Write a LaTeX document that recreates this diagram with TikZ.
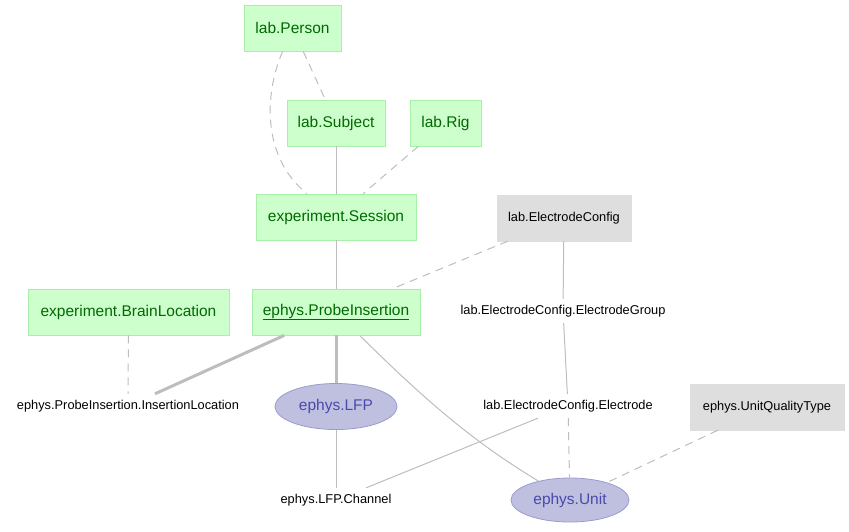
\documentclass[tikz,border=0pt]{standalone}
\usepackage{fontspec}
\setmainfont{Liberation Sans}
\usetikzlibrary{shapes.geometric}
\definecolor{gfill}{HTML}{CCFFCC}
\definecolor{gdraw}{HTML}{A8F0A8}
\definecolor{gtext}{HTML}{006A00}
\definecolor{grfill}{HTML}{DEDEDE}
\definecolor{efill}{HTML}{BFC0E0}
\definecolor{edraw}{HTML}{9A9AD0}
\definecolor{etext}{HTML}{4A4AAA}
\definecolor{edgec}{HTML}{BDBDBD}
\tikzset{
  greenbox/.style={draw=gdraw, fill=gfill, text=gtext, rectangle, inner sep=0pt, minimum height=46pt, font=\fontsize{15.5}{18}\selectfont, line width=0.8pt},
  graybox/.style={draw=grfill, fill=grfill, text=black, rectangle, inner sep=0pt, minimum height=46pt, font=\fontsize{12.8}{15}\selectfont},
  ell/.style={draw=edraw, fill=efill, text=etext, ellipse, inner sep=0pt, minimum height=46pt, font=\fontsize{15.5}{18}\selectfont, line width=0.8pt},
  txt/.style={inner sep=0pt, minimum height=24pt, font=\fontsize{12.8}{15}\selectfont, text=black},
  conn/.style={draw=edgec, line width=1pt},
  dconn/.style={conn, dash pattern=on 8pt off 6pt},
  thick conn/.style={draw=edgec, line width=3pt},
}
\begin{document}
\begin{tikzpicture}[x=1pt,y=-1pt]
\useasboundingbox (0,0) rectangle (849,531);
\node[greenbox, minimum width=97pt] (person) at (292.5,28) {lab.Person};
\node[greenbox, minimum width=98pt] (subject) at (336,123) {lab.Subject};
\node[greenbox, minimum width=71pt] (rig) at (445.5,123) {lab.Rig};
\node[greenbox, minimum width=160pt] (session) at (336,217) {experiment.Session};
\node[graybox, minimum width=134pt] (ec) at (564,218) {lab.ElectrodeConfig};
\node[greenbox, minimum width=201pt] (brain) at (128.5,312) {experiment.BrainLocation};
\node[greenbox, minimum width=168pt] (pi) at (336,312) {\underline{ephys.ProbeInsertion}};
\node[txt] (group) at (563,311) {lab.ElectrodeConfig.ElectrodeGroup};
\node[txt] (insloc) at (128,406) {ephys.ProbeInsertion.InsertionLocation};
\node[ell, minimum width=122pt] (lfp) at (336,406.5) {ephys.LFP};
\node[txt] (electrode) at (568,406) {lab.ElectrodeConfig.Electrode};
\node[graybox, minimum width=154pt] (uqt) at (767,407) {ephys.UnitQualityType};
\node[txt] (channel) at (336,500) {ephys.LFP.Channel};
\node[ell, minimum width=118pt, minimum height=44pt] (unit) at (570,500) {ephys.Unit};

\draw[dconn] (person) .. controls (262,100) and (265,160) .. (session);
\draw[dconn] (person) -- (subject);
\draw[conn] (subject) -- (session);
\draw[dconn] (rig) -- (session);
\draw[conn] (session) -- (pi);
\draw[dconn] (ec) -- (pi);
\draw[conn] (ec) -- (group);
\draw[conn] (group) -- (electrode);
\draw[dconn] (brain) -- (insloc);
\draw[thick conn] (pi) -- (insloc);
\draw[thick conn] (pi) -- (lfp);
\draw[conn] (pi) .. controls (420,395) and (470,440) .. (unit);
\draw[conn] (lfp) -- (channel);
\draw[conn] (electrode) -- (channel);
\draw[dconn] (electrode) -- (unit);
\draw[dconn] (uqt) -- (unit);
\end{tikzpicture}
\end{document}
